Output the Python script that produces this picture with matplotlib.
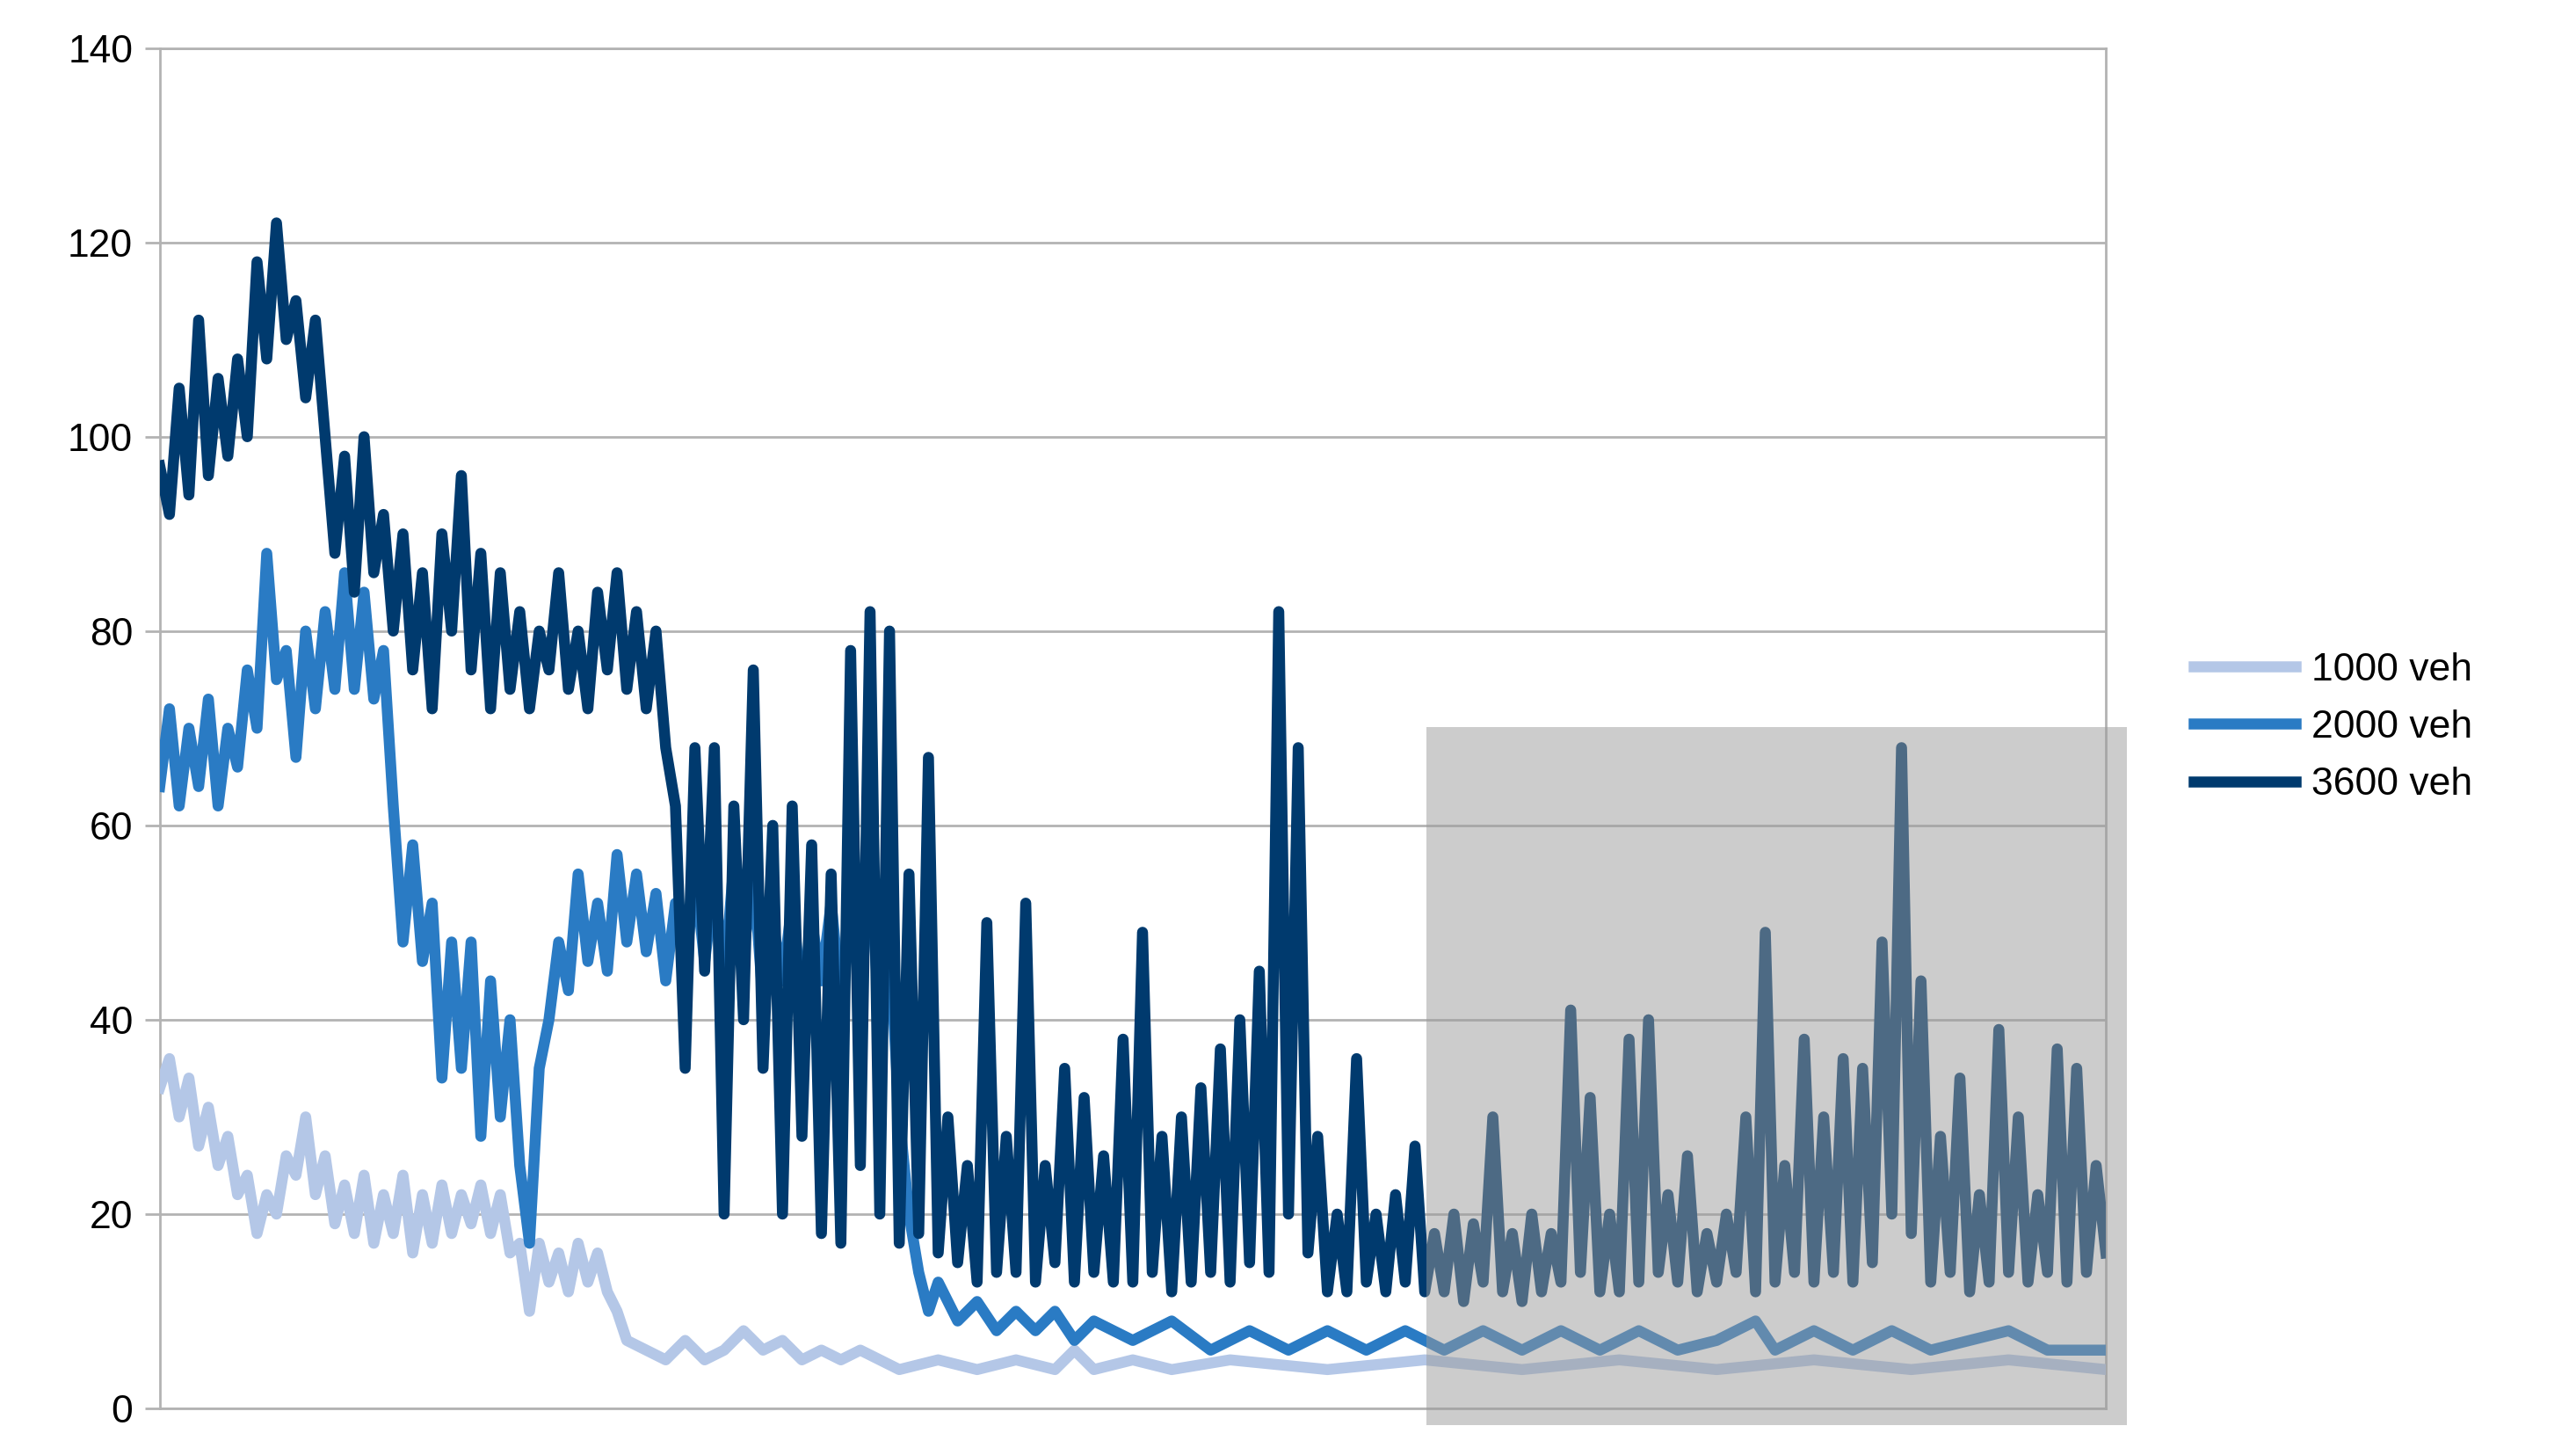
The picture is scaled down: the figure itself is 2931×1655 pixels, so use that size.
import numpy as np
import matplotlib.pyplot as plt
from matplotlib.patches import Rectangle

plt.rcParams["font.family"] = ["Liberation Sans", "DejaVu Sans"]

# 3600 veh
x_3600 = [0, 0.5, 1, 1.5, 2, 2.5, 3, 3.5, 4, 4.5, 5, 5.5, 6, 6.5, 7, 7.5, 8, 8.5, 9, 9.5,
          10, 10.5, 11, 11.5, 12, 12.5, 13, 13.5, 14, 14.5, 15, 15.5, 16, 16.5, 17, 17.5, 18, 18.5, 19, 19.5,
          20, 20.5, 21, 21.5, 22, 22.5, 23, 23.5, 24, 24.5, 25, 25.5, 26, 26.5, 27, 27.5, 28, 28.5, 29, 29.5,
          30, 30.5, 31, 31.5, 32, 32.5, 33, 33.5, 34, 34.5, 35, 35.5, 36, 36.5, 37, 37.5, 38, 38.5, 39, 39.5,
          40, 40.5, 41, 41.5, 42, 42.5, 43, 43.5, 44, 44.5, 45, 45.5, 46, 46.5, 47, 47.5, 48, 48.5, 49, 49.5,
          50, 50.5, 51, 51.5, 52, 52.5, 53, 53.5, 54, 54.5, 55, 55.5, 56, 56.5, 57, 57.5, 58, 58.5, 59, 59.5,
          60, 60.5, 61, 61.5, 62, 62.5, 63, 63.5, 64, 64.5, 65, 65.5, 66, 66.5, 67, 67.5, 68, 68.5, 69, 69.5,
          70, 70.5, 71, 71.5, 72, 72.5, 73, 73.5, 74, 74.5, 75, 75.5, 76, 76.5, 77, 77.5, 78, 78.5, 79, 79.5,
          80, 80.5, 81, 81.5, 82, 82.5, 83, 83.5, 84, 84.5, 85, 85.5, 86, 86.5, 87, 87.5, 88, 88.5, 89, 89.5,
          90, 90.5, 91, 91.5, 92, 92.5, 93, 93.5, 94, 94.5, 95, 95.5, 96, 96.5, 97, 97.5, 98, 98.5, 99, 99.5, 100]
y_3600 = [97, 92, 105, 94, 112, 96, 106, 98, 108, 100, 118, 108, 122, 110, 114, 104, 112, 100, 88, 98,
          84, 100, 86, 92, 80, 90, 76, 86, 72, 90, 80, 96, 76, 88, 72, 86, 74, 82, 72, 80,
          76, 86, 74, 80, 72, 84, 76, 86, 74, 82, 72, 80, 68, 62, 35, 68, 45, 68, 20, 62,
          40, 76, 35, 60, 20, 62, 28, 58, 18, 55, 17, 78, 25, 82, 20, 80, 17, 55, 18, 67,
          16, 30, 15, 25, 13, 50, 14, 28, 14, 52, 13, 25, 15, 35, 13, 32, 14, 26, 13, 38,
          13, 49, 14, 28, 12, 30, 13, 33, 14, 37, 13, 40, 15, 45, 14, 82, 20, 68, 16, 28,
          12, 20, 12, 36, 13, 20, 12, 22, 13, 27, 12, 18, 12, 20, 11, 19, 13, 30, 12, 18,
          11, 20, 12, 18, 13, 41, 14, 32, 12, 20, 12, 38, 13, 40, 14, 22, 13, 26, 12, 18,
          13, 20, 14, 30, 12, 49, 13, 25, 14, 38, 13, 30, 14, 36, 13, 35, 15, 48, 20, 68,
          18, 44, 13, 28, 14, 34, 12, 22, 13, 39, 14, 30, 13, 22, 14, 37, 13, 35, 14, 25, 16]

# 2000 veh
x_2000 = [0, 0.5, 1, 1.5, 2, 2.5, 3, 3.5, 4, 4.5, 5, 5.5, 6, 6.5, 7, 7.5, 8, 8.5, 9, 9.5,
          10, 10.5, 11, 11.5, 12, 12.5, 13, 13.5, 14, 14.5, 15, 15.5, 16, 16.5, 17, 17.5, 18, 18.5, 19, 19.5,
          20, 20.5, 21, 21.5, 22, 22.5, 23, 23.5, 24, 24.5, 25, 25.5, 26, 26.5, 27, 27.5, 28, 28.5, 29, 29.5,
          30, 30.5, 31, 31.5, 32, 32.5, 33, 33.5, 34, 34.5, 35, 35.5, 36, 36.5, 37, 37.5, 38, 38.5, 39, 39.5,
          40, 41, 42, 43, 44, 45, 46, 47, 48, 50, 52, 54, 56, 58, 60, 62, 64, 66, 68, 70,
          72, 74, 76, 78, 80, 82, 83, 85, 87, 89, 91, 93, 95, 97, 100]
y_2000 = [64, 72, 62, 70, 64, 73, 62, 70, 66, 76, 70, 88, 75, 78, 67, 80, 72, 82, 74, 86,
          74, 84, 73, 78, 62, 48, 58, 46, 52, 34, 48, 35, 48, 28, 44, 30, 40, 25, 17, 35,
          40, 48, 43, 55, 46, 52, 45, 57, 48, 55, 47, 53, 44, 52, 45, 55, 46, 54, 44, 56,
          47, 55, 42, 50, 44, 52, 42, 50, 44, 52, 42, 50, 45, 55, 40, 48, 30, 20, 14, 10,
          13, 9, 11, 8, 10, 8, 10, 7, 9, 7, 9, 6, 8, 6, 8, 6, 8, 6, 8, 6,
          8, 6, 8, 6, 7, 9, 6, 8, 6, 8, 6, 7, 8, 6, 6]

# 1000 veh
x_1000 = [0, 0.5, 1, 1.5, 2, 2.5, 3, 3.5, 4, 4.5, 5, 5.5, 6, 6.5, 7, 7.5, 8, 8.5, 9, 9.5,
          10, 10.5, 11, 11.5, 12, 12.5, 13, 13.5, 14, 14.5, 15, 15.5, 16, 16.5, 17, 17.5, 18, 18.5, 19, 19.5,
          20, 20.5, 21, 21.5, 22, 22.5, 23, 23.5, 24, 25, 26, 27, 28, 29, 30, 31, 32, 33, 34, 35,
          36, 38, 40, 42, 44, 46, 47, 48, 50, 52, 55, 60, 65, 70, 75, 80, 85, 90, 95, 100]
y_1000 = [33, 36, 30, 34, 27, 31, 25, 28, 22, 24, 18, 22, 20, 26, 24, 30, 22, 26, 19, 23,
          18, 24, 17, 22, 18, 24, 16, 22, 17, 23, 18, 22, 19, 23, 18, 22, 16, 17, 10, 17,
          13, 16, 12, 17, 13, 16, 12, 10, 7, 6, 5, 7, 5, 6, 8, 6, 7, 5, 6, 5,
          6, 4, 5, 4, 5, 4, 6, 4, 5, 4, 5, 4, 5, 4, 5, 4, 5, 4, 5, 4]

labels = ["1000 veh", "2000 veh", "3600 veh"]
colors = ["#b4c7e7", "#2a7bc4", "#003a6e"]

fig = plt.figure(figsize=(29.31, 16.55), dpi=100)
ax = fig.add_axes([0.062, 0.032, 0.7555, 0.935])

lw = 9
ax.plot(x_1000, y_1000, color=colors[0], lw=lw, label=labels[0], zorder=3)
ax.plot(x_2000, y_2000, color=colors[1], lw=lw, label=labels[1], zorder=4)
ax.plot(x_3600, y_3600, color=colors[2], lw=lw, label=labels[2], zorder=5)

ax.add_patch(Rectangle((65.1, -1.7), 36.0, 71.8, facecolor="#9a9a9a", alpha=0.5,
                       edgecolor="none", zorder=6, clip_on=False))

ax.set_xlim(0, 100)
ax.set_ylim(0, 140)
ax.set_yticks(range(0, 141, 20))
ax.set_xticks([])
ax.tick_params(axis="y", labelsize=32, length=12, width=2, color="#b3b3b3", pad=10)
ax.grid(axis="y", color="#b3b3b3", lw=2)
ax.set_axisbelow(True)
for s in ax.spines.values():
    s.set_color("#b3b3b3")
    s.set_linewidth(2)

fig.legend(loc="center left", bbox_to_anchor=(0.838, 0.5), frameon=False,
           fontsize=32, handlelength=2.6, handletextpad=0.4, labelspacing=0.55)

fig.savefig("out.png", dpi=100)
